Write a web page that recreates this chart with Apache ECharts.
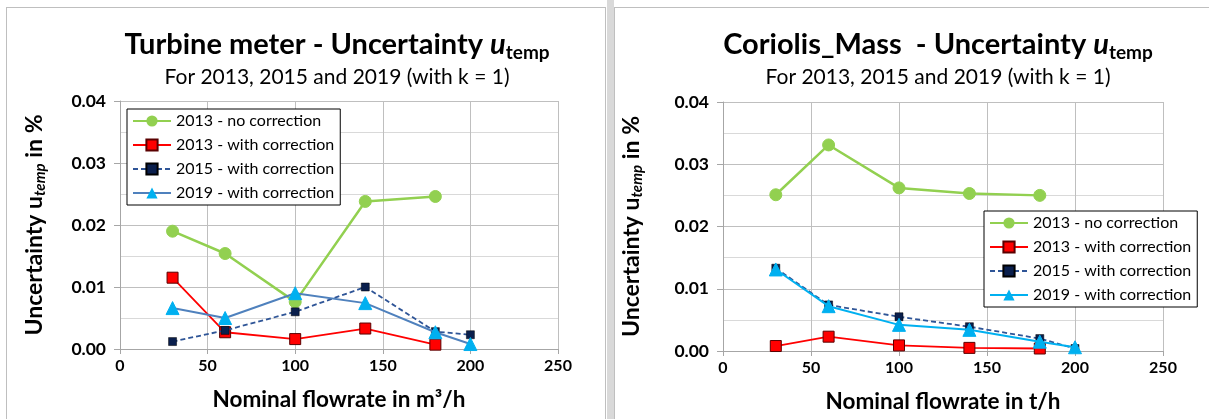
<!DOCTYPE html>
<html><head><meta charset="utf-8">
<script src="https://cdn.jsdelivr.net/npm/echarts@6/dist/echarts.min.js"></script>
<style>
html,body{margin:0;padding:0;background:#fff;width:1209px;height:419px;overflow:hidden;}
#p1{position:absolute;left:6px;top:7px;width:600px;height:420px;border-left:1px solid #bfbfbf;border-top:1px solid #bfbfbf;border-right:1px solid #bfbfbf;box-sizing:border-box;}
#sep{position:absolute;left:607px;top:0;width:7px;height:419px;background:#d9d9d9;}
#p2{position:absolute;left:614px;top:7px;width:600px;height:420px;border-left:1px solid #bfbfbf;border-top:1px solid #bfbfbf;box-sizing:border-box;}
#c1{position:absolute;left:0;top:0;width:607px;height:419px;}
#c2{position:absolute;left:607px;top:0;width:602px;height:419px;}
</style></head>
<body>
<div id="p1"></div><div id="sep"></div><div id="p2"></div>
<div id="c1"></div><div id="c2"></div>
<script>
// ---- data ----
const seriesNames = ['2013 - no correction', '2013 - with correction', '2015 - with correction', '2019 - with correction'];
const flow2013 = [30, 60, 100, 140, 180];
const flow2015 = [30, 60, 100, 140, 180, 200];
const flow2019 = [30, 60, 100, 140, 180, 200];
const xTicks = [0, 50, 100, 150, 200, 250];
const yTicks = [0, 0.01, 0.02, 0.03, 0.04];

const turbine2013No   = [0.0190, 0.0154, 0.0076, 0.0238, 0.0246];
const turbine2013With = [0.0115, 0.0027, 0.0016, 0.0033, 0.0007];
const turbine2015With = [0.0012, 0.0030, 0.0060, 0.0100, 0.0028, 0.0023];
const turbine2019With = [0.0066, 0.0050, 0.0090, 0.0074, 0.0027, 0.0008];

const coriolis2013No   = [0.0251, 0.0331, 0.0262, 0.0253, 0.0250];
const coriolis2013With = [0.0008, 0.0023, 0.0009, 0.0005, 0.0004];
const coriolis2015With = [0.0133, 0.0074, 0.0055, 0.0039, 0.0020, 0.0004];
const coriolis2019With = [0.0131, 0.0072, 0.0042, 0.0034, 0.0015, 0.0006];

const FONT = 'Lato';
function pairs(xs, ys){ return xs.map((x,i)=>[x, ys[i]]); }

function makeOption(cfg){
  const titleRich = {
    b:{fontFamily:FONT,fontWeight:'bold',fontSize:29,color:'#000',lineHeight:34},
    u:{fontFamily:FONT,fontWeight:'bold',fontStyle:'italic',fontSize:29,color:'#000',lineHeight:34},
    s:{fontFamily:FONT,fontWeight:'bold',fontSize:19,color:'#000',lineHeight:12,verticalAlign:'bottom'}
  };
  const yRich = {
    b:{fontFamily:FONT,fontWeight:'bold',fontSize:23,color:'#000',lineHeight:27},
    s:{fontFamily:FONT,fontWeight:'bold',fontStyle:'italic',fontSize:15,color:'#000',lineHeight:8,verticalAlign:'bottom'}
  };
  return {
    animation:false,
    title:[
      {text:'{b|'+cfg.title+' }{u|u}{s|temp}', left:cfg.titleX, top:23, textAlign:'center',
       textStyle:{rich:titleRich}},
      {text:'For 2013, 2015 and 2019 (with k = 1)', left:cfg.titleX, top:62, textAlign:'center',
       textStyle:{fontFamily:FONT,fontSize:21,fontWeight:'normal',color:'#000'}}
    ],
    legend:{
      orient:'vertical', left:cfg.legendLeft, top:cfg.legendTop,
      data:seriesNames, borderColor:'#000', borderWidth:1, padding:[4,6,4,5],
      itemWidth:38, itemHeight:14, itemGap:8, backgroundColor:'#fff',
      textStyle:{fontFamily:FONT,fontSize:16,color:'#000',lineHeight:14}
    },
    grid:{left:cfg.gridLeft, top:cfg.gridTop, width:cfg.gridW, height:cfg.gridH, containLabel:false},
    xAxis:{
      type:'value', min:xTicks[0], max:xTicks[xTicks.length-1], interval:50,
      name:cfg.xName, nameLocation:'middle', nameGap:39,
      nameTextStyle:{fontFamily:FONT,fontWeight:'bold',fontSize:22.5,color:'#000'},
      axisLine:{show:true,lineStyle:{color:'#a6a6a6'}},
      axisTick:{show:true,length:5,lineStyle:{color:'#a6a6a6'}},
      axisLabel:{fontFamily:FONT,fontWeight:'bold',fontSize:16,color:'#000',margin:9},
      splitLine:{show:true,lineStyle:{color:'#bfbfbf'}}
    },
    yAxis:{
      type:'value', min:yTicks[0], max:yTicks[yTicks.length-1], interval:0.01,
      name:'{b|Uncertainty u}{s|temp}{b| in %}', nameLocation:'middle', nameGap:cfg.yNameGap, nameRotate:90,
      nameTextStyle:{rich:yRich},
      axisLine:{show:true,lineStyle:{color:'#a6a6a6'}},
      axisTick:{show:true,length:6,lineStyle:{color:'#a6a6a6'}},
      axisLabel:{fontFamily:FONT,fontWeight:'bold',fontSize:17.5,color:'#000',margin:14,formatter:v=>v.toFixed(2)},
      splitLine:{show:true,lineStyle:{color:'#bfbfbf'}},
      minorTick:{show:false,splitNumber:2},
      minorSplitLine:{show:true,lineStyle:{color:'#d9d9d9'}}
    },
    series:[
      {name:seriesNames[0], type:'line', data:pairs(flow2013, cfg.d0), symbol:'circle', symbolSize:12,
       lineStyle:{color:'#92D050',width:2.5}, itemStyle:{color:'#92D050',borderColor:'#92D050'}, z:2},
      {name:seriesNames[1], type:'line', data:pairs(flow2013, cfg.d1), symbol:'rect', symbolSize:11,
       lineStyle:{color:'#FF0000',width:1.8}, itemStyle:{color:'#FF0000',borderColor:'#5a0000',borderWidth:1}, z:3},
      {name:seriesNames[2], type:'line', data:pairs(flow2015, cfg.d2), symbol:'rect', symbolSize:8,
       lineStyle:{color:'#2F5597',width:1.8,type:[5,3]}, itemStyle:{color:'#0a1f4d',borderColor:'#000',borderWidth:0.5}, z:4},
      {name:seriesNames[3], type:'line', data:pairs(flow2019, cfg.d3), symbol:'triangle', symbolSize:13,
       lineStyle:{color:cfg.c19,width:2}, itemStyle:{color:'#00B0F0',borderColor:'#00B0F0'}, z:5}
    ]
  };
}

const c1 = echarts.init(document.getElementById('c1'), null, {renderer:'canvas'});
c1.setOption(makeOption({
  title:'Turbine meter - Uncertainty', titleX:332, legendLeft:127, legendTop:109,
  gridLeft:120, gridTop:101, gridW:438, gridH:248, xName:'Nominal flowrate in m³/h', yNameGap:72,
  d0:turbine2013No, d1:turbine2013With, d2:turbine2015With, d3:turbine2019With, c19:'#4F81BD'
}));
const c2 = echarts.init(document.getElementById('c2'), null, {renderer:'canvas'});
c2.setOption(makeOption({
  title:'Coriolis_Mass  - Uncertainty', titleX:326, legendLeft:377, legendTop:211,
  gridLeft:116, gridTop:102, gridW:440, gridH:249, xName:'Nominal flowrate in t/h', yNameGap:78,
  d0:coriolis2013No, d1:coriolis2013With, d2:coriolis2015With, d3:coriolis2019With, c19:'#00B0F0'
}));
</script>
</body></html>
